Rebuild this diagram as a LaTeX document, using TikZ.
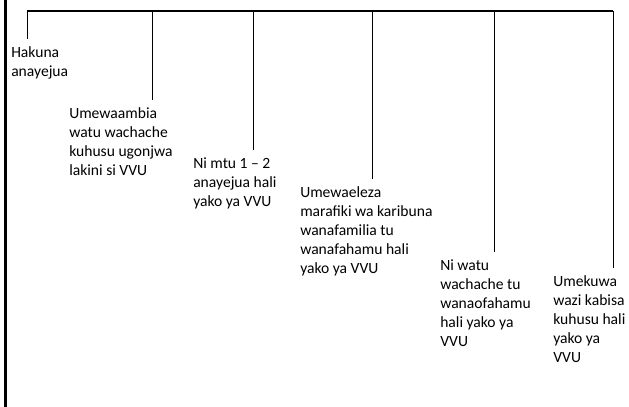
\documentclass[tikz,border=0pt]{standalone}
\usepackage{fontspec}
\setmainfont{Carlito}
\tikzset{stage/.style = {anchor=north west, align=left, inner sep=0,
    font=\fontsize{11.7}{14.3}\selectfont}}
\tikzset{branch/.style = {line width=0.75pt, shorten >=5pt}}

\begin{document}
\begin{tikzpicture}[x=0.75pt, y=-0.75pt]
          \useasboundingbox (0, 0) rectangle (629, 407);

          \draw [line width=2.25pt] (5.5, 0) -- (5.5, 407);

          \coordinate (b1) at (27, 11);
          \coordinate (b2) at (152, 11);
          \coordinate (b3) at (253, 11);
          \coordinate (b4) at (372, 11);
          \coordinate (b5) at (494, 11);
          \coordinate (b6) at (613, 11);

          \node [stage] (hakuna) at (11, 46) {Hakuna\\anayejua};
          \node [stage] (wachache) at (69, 107) {Umewaambia\\watu wachache\\kuhusu ugonjwa\\lakini si VVU};
          \node [stage] (mtu) at (193, 157) {Ni mtu 1 – 2\\anayejua hali\\yako ya VVU};
          \node [stage] (marafiki) at (300, 186) {Umewaeleza\\marafiki wa karibuna\\wanafamilia tu\\wanafahamu hali\\yako ya VVU};
          \node [stage] (watu) at (440, 259) {Ni watu\\wachache tu\\wanaofahamu\\hali yako ya\\VVU};
          \node [stage] (wazi) at (553, 275) {Umekuwa\\wazi kabisa\\kuhusu hali\\yako ya\\VVU};

          \draw [line width=1.5pt] (b1) -- (b6);

          \draw [branch] (b1) -- (b1 |- hakuna.north);
          \draw [branch] (b2) -- (b2 |- wachache.north);
          \draw [branch] (b3) -- (b3 |- mtu.north);
          \draw [branch] (b4) -- (b4 |- marafiki.north);
          \draw [branch] (b5) -- (b5 |- watu.north);
          \draw [branch] (b6) -- (b6 |- wazi.north);
        \end{tikzpicture}
\end{document}
